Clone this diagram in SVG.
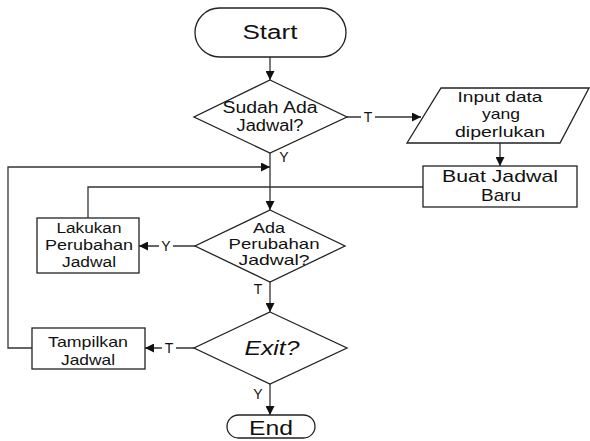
<svg xmlns="http://www.w3.org/2000/svg" width="590" height="441" viewBox="0 0 590 441">
  <defs>
    <marker id="arr" viewBox="0 0 10 10" refX="10" refY="5" markerWidth="10" markerHeight="9" markerUnits="userSpaceOnUse" orient="auto">
      <path d="M0,0 L10,5 L0,10 z" fill="#111"/>
    </marker>
    <style>
      .shape { fill: #fff; stroke: #222; stroke-width: 1.3; }
      .line { fill: none; stroke: #333; stroke-width: 1.3; }
      text { font-family: "Liberation Sans", Arial, sans-serif; fill: #111; text-anchor: middle; }
      .lbl { font-size: 14px; }
    </style>
  </defs>
  <rect width="590" height="441" fill="#fff"/>

  <g id="connectors">
    <path class="line" d="M270,57 V80" marker-end="url(#arr)"/>
    <path class="line" d="M347,117 H421" marker-end="url(#arr)"/>
    <path class="line" d="M500,143 V166" marker-end="url(#arr)"/>
    <path class="line" d="M423,187 H88 V218"/>
    <path class="line" d="M270,153 V210" marker-end="url(#arr)"/>
    <path class="line" d="M32,348 H8 V167 H270" marker-end="url(#arr)"/>
    <path class="line" d="M195,246 H139" marker-end="url(#arr)"/>
    <path class="line" d="M270,282 V312" marker-end="url(#arr)"/>
    <path class="line" d="M194,348 H145" marker-end="url(#arr)"/>
    <path class="line" d="M270,384 V415" marker-end="url(#arr)"/>
    <!-- branch labels -->
    <rect x="361" y="109" width="14" height="16" fill="#fff"/>
    <text class="lbl" x="368" y="122">T</text>
    <text class="lbl" x="284" y="162">Y</text>
    <rect x="159" y="238" width="14" height="16" fill="#fff"/>
    <text class="lbl" x="166" y="251">Y</text>
    <text class="lbl" x="258" y="294">T</text>
    <rect x="162" y="340" width="14" height="16" fill="#fff"/>
    <text class="lbl" x="169" y="353">T</text>
    <text class="lbl" x="258" y="399">Y</text>
  </g>

  <g id="start">
    <rect class="shape" x="195" y="8" width="151" height="49" rx="24.5"/>
    <text x="270" y="39" font-size="20" textLength="55" lengthAdjust="spacingAndGlyphs">Start</text>
  </g>

  <g id="cek-jadwal">
    <polygon class="shape" points="270,80 347,117 270,153 194,117"/>
    <text x="270" y="113" font-size="16" textLength="95" lengthAdjust="spacingAndGlyphs">Sudah Ada</text>
    <text x="270" y="131" font-size="16" textLength="67" lengthAdjust="spacingAndGlyphs">Jadwal?</text>
  </g>

  <g id="input-data">
    <polygon class="shape" points="441,88 589,88 560,143 407,143"/>
    <text x="500" y="102" font-size="15" textLength="85" lengthAdjust="spacingAndGlyphs">Input data</text>
    <text x="501" y="119" font-size="15" textLength="38" lengthAdjust="spacingAndGlyphs">yang</text>
    <text x="500" y="137" font-size="15" textLength="90" lengthAdjust="spacingAndGlyphs">diperlukan</text>
  </g>

  <g id="buat-jadwal">
    <rect class="shape" x="423" y="166" width="154" height="41"/>
    <text x="500" y="182" font-size="17" textLength="116" lengthAdjust="spacingAndGlyphs">Buat Jadwal</text>
    <text x="501" y="201" font-size="17" textLength="40" lengthAdjust="spacingAndGlyphs">Baru</text>
  </g>

  <g id="cek-perubahan">
    <polygon class="shape" points="270,210 345,246 270,282 195,246"/>
    <text x="269" y="233" font-size="15" textLength="32" lengthAdjust="spacingAndGlyphs">Ada</text>
    <text x="274" y="249" font-size="15" textLength="91" lengthAdjust="spacingAndGlyphs">Perubahan</text>
    <text x="274" y="265" font-size="15" textLength="71" lengthAdjust="spacingAndGlyphs">Jadwal?</text>
  </g>

  <g id="ubah-jadwal">
    <rect class="shape" x="37" y="218" width="102" height="55"/>
    <text x="89" y="233" font-size="14" textLength="65" lengthAdjust="spacingAndGlyphs">Lakukan</text>
    <text x="89" y="250" font-size="14" textLength="88" lengthAdjust="spacingAndGlyphs">Perubahan</text>
    <text x="89" y="267" font-size="14" textLength="54" lengthAdjust="spacingAndGlyphs">Jadwal</text>
  </g>

  <g id="cek-exit">
    <polygon class="shape" points="270,312 347,348 270,384 194,348"/>
    <text x="272" y="355" font-size="20" font-style="italic" textLength="55" lengthAdjust="spacingAndGlyphs">Exit?</text>
  </g>

  <g id="tampil-jadwal">
    <rect class="shape" x="32" y="328" width="113" height="41"/>
    <text x="88" y="347" font-size="15" textLength="80" lengthAdjust="spacingAndGlyphs">Tampilkan</text>
    <text x="88" y="365" font-size="15" textLength="54" lengthAdjust="spacingAndGlyphs">Jadwal</text>
  </g>

  <g id="end">
    <rect class="shape" x="227" y="415" width="88" height="23" rx="11.5"/>
    <text x="271" y="435" font-size="21" textLength="44" lengthAdjust="spacingAndGlyphs">End</text>
  </g>
</svg>
